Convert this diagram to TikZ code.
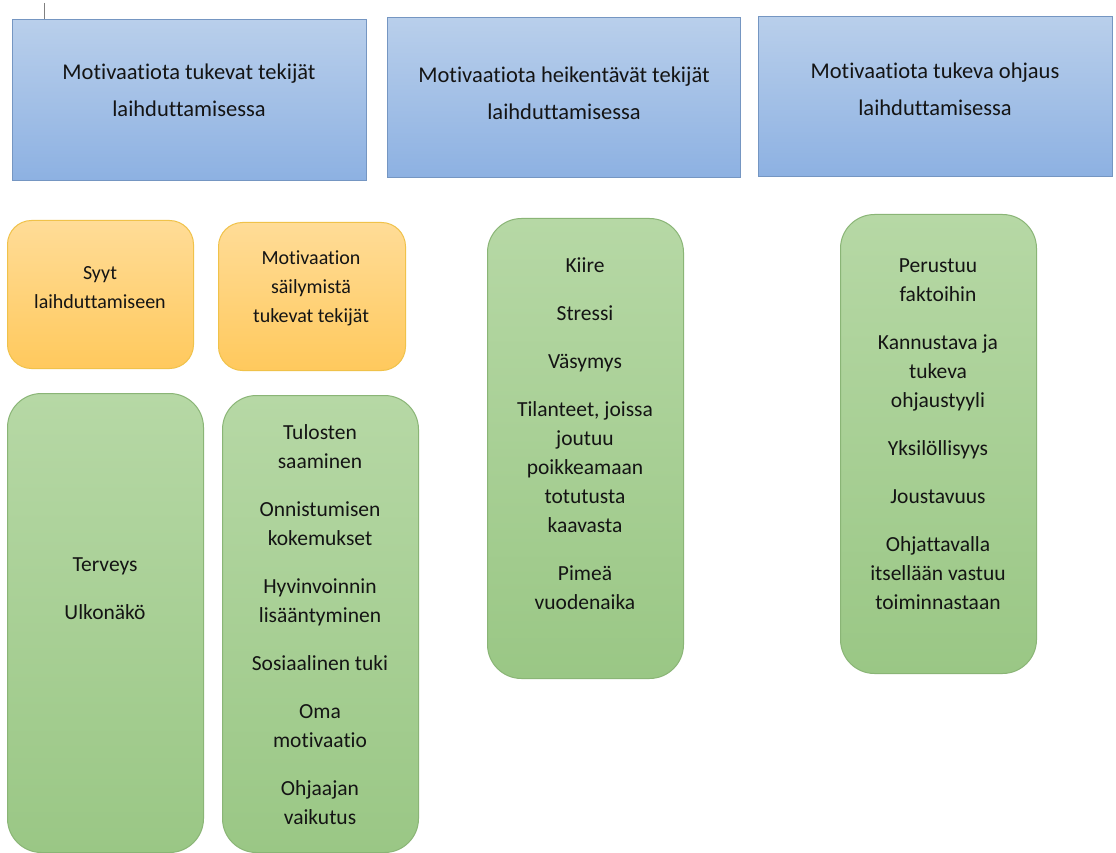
\documentclass[tikz,border=0pt]{standalone}
\usepackage{fontspec}
\setmainfont[RawFeature={-liga;-clig;-dlig;-calt;-hlig}]{Carlito}
\definecolor{bluetop}{HTML}{B9CFEB}
\definecolor{bluebot}{HTML}{8DB1E2}
\definecolor{blueedge}{HTML}{7596C2}
\definecolor{greentop}{HTML}{B6D8A5}
\definecolor{greenbot}{HTML}{9AC785}
\definecolor{greenedge}{HTML}{8AB576}
\definecolor{orangetop}{HTML}{FFDC97}
\definecolor{orangebot}{HTML}{FFC95D}
\definecolor{orangeedge}{HTML}{F0C24A}
\definecolor{txt}{HTML}{141414}
\tikzset{
  headbox/.style={draw=blueedge, line width=1pt, top color=bluetop, bottom color=bluebot, anchor=north west, inner sep=0pt},
  greenbox/.style={draw=greenedge, line width=1pt, top color=greentop, bottom color=greenbot, rounded corners=34pt, anchor=north west, inner sep=0pt},
  orangebox/.style={draw=orangeedge, line width=1pt, top color=orangetop, bottom color=orangebot, rounded corners=24pt, anchor=north west, inner sep=0pt},
  headtext/.style={align=center, text=txt, font=\fontsize{22.5}{37}\selectfont, inner sep=0pt},
  itemtext/.style={align=center, text=txt, font=\fontsize{21.5}{29}\selectfont, inner sep=0pt},
  smalltext/.style={align=center, text=txt, font=\fontsize{20}{29}\selectfont, inner sep=0pt},
}
\newcommand{\gap}{\\[19pt]}
\begin{document}
\begin{tikzpicture}[x=1pt,y=-1pt]
\useasboundingbox[fill=white] (0,0) rectangle (1116,853);
% cursor mark
\coordinate (c1) at (44,3);
\coordinate (c2) at (44,26);
\draw[gray, line width=0.8pt] (c1) -- (c2);
% headings
\node[headbox, minimum width=354pt, minimum height=161pt] (h1) at (12,19) {};
\node[headbox, minimum width=353pt, minimum height=160pt] (h2) at (387,17) {};
\node[headbox, minimum width=354pt, minimum height=160pt] (h3) at (758,16) {};
\node[headtext] (h1t) at (189,90) {Motivaatiota tukevat tekijät\\laihduttamisessa};
\node[headtext] (h2t) at (564,93) {Motivaatiota heikentävät tekijät\\laihduttamisessa};
\node[headtext] (h3t) at (935,89) {Motivaatiota tukeva ohjaus\\laihduttamisessa};
% orange boxes
\node[orangebox, minimum width=186pt, minimum height=148pt] (o1) at (7,220) {};
\node[orangebox, minimum width=187pt, minimum height=148pt] (o2) at (218,222) {};
\node[smalltext] (o1t) at (100,288) {Syyt\\laihduttamiseen};
\node[smalltext] (o2t) at (311,288) {Motivaation\\säilymistä\\tukevat tekijät};
% green boxes
\node[greenbox, minimum width=196pt, minimum height=459pt] (g1) at (7,393) {};
\node[greenbox, minimum width=196pt, minimum height=457pt] (g2) at (222,395) {};
\node[greenbox, minimum width=196pt, minimum height=460pt] (g3) at (487,218) {};
\node[greenbox, minimum width=196pt, minimum height=459pt] (g4) at (840,214) {};
\node[itemtext] (g1t) at (105,589) {Terveys\gap Ulkonäkö};
\node[itemtext] (g2t) at (320,625) {Tulosten\\saaminen\gap Onnistumisen\\kokemukset\gap Hyvinvoinnin\\lisääntyminen\gap Sosiaalinen tuki\gap Oma\\motivaatio\gap Ohjaajan\\vaikutus};
\node[itemtext] (g3t) at (585,434) {Kiire\gap Stressi\gap Väsymys\gap Tilanteet, joissa\\joutuu\\poikkeamaan\\totutusta\\kaavasta\gap Pimeä\\vuodenaika};
\node[itemtext] (g4t) at (938,434) {Perustuu\\faktoihin\gap Kannustava ja\\tukeva\\ohjaustyyli\gap Yksilöllisyys\gap Joustavuus\gap Ohjattavalla\\itsellään vastuu\\toiminnastaan};
\end{tikzpicture}
\end{document}
